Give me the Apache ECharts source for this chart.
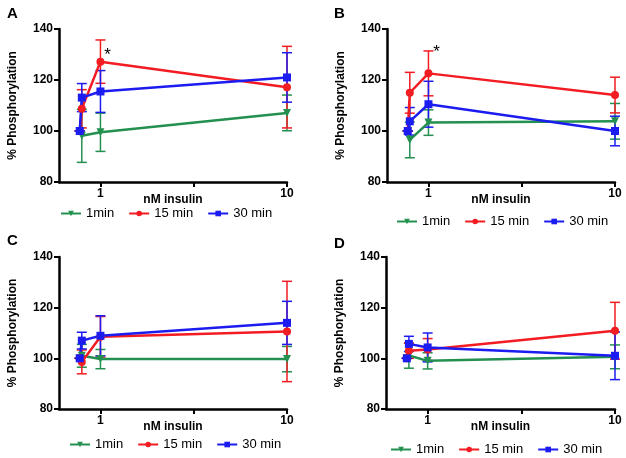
<!DOCTYPE html>
<html>
<head>
<meta charset="utf-8">
<title>Phosphorylation vs insulin</title>
<script src="https://cdn.jsdelivr.net/npm/echarts@6/dist/echarts.min.js"></script>
<style>
  html, body { margin: 0; padding: 0; background: #fff; }
  #main { width: 626px; height: 458px; }
</style>
</head>
<body>
<div id="main"></div>
<script>
// insulin doses (nM), 0 = control
const doses = [0, 0.1, 1, 10]
const seriesNames = ['1min', '15 min', '30 min']

// panel A
const a1min = [100, 98.1, 99.5, 107.1]
const a1minErr = [0, 10.4, 7.5, 7]
const a15min = [100, 108.7, 127.2, 117.2]
const a15minErr = [0, 7.5, 8.5, 16]
const a30min = [100, 113.1, 115.5, 121.0]
const a30minErr = [0, 5.5, 8.2, 9.7]

// panel B
const b1min = [100, 96.5, 103.3, 103.8]
const b1minErr = [0, 7, 5, 7]
const b15min = [100, 115.0, 122.6, 114.1]
const b15minErr = [0, 8, 8.8, 7]
const b30min = [100, 103.8, 110.5, 100.0]
const b30minErr = [0, 5.4, 9, 5.8]

// panel C
const c1min = [100, 101.0, 99.7, 99.7]
const c1minErr = [0, 4.5, 3.8, 5]
const c15min = [100, 98.6, 108.5, 110.6]
const c15minErr = [0, 4.7, 8, 19.8]
const c30min = [100, 107.0, 108.9, 114.0]
const c30minErr = [0, 3.3, 7.9, 8.5]

// panel D
const d1min = [100, 101.1, 99.0, 100.6]
const d1minErr = [0, 5, 3.2, 4.7]
const d15min = [100, 103.0, 103.5, 110.9]
const d15minErr = [0, 3, 4.3, 11.2]
const d30min = [100, 105.7, 104.3, 101.0]
const d30minErr = [0, 3, 5.7, 9.4]

// significance marks: [x, y]
const starA = [1.34, 129.5]
const starB = [1.39, 131]

const colors = ['#23904f', '#f21c22', '#1c1cf0']
const symbols = ['triangle', 'circle', 'rect']
const symbolRotate = [180, 0, 0]

const panels = [
  { letter: 'A', grid: { left: 59, top: 29, width: 228, height: 153 }, legendTop: 202, legendLeft: 55,
    letterPos: [7, 6], values: [a1min, a15min, a30min], errs: [a1minErr, a15minErr, a30minErr], star: starA },
  { letter: 'B', grid: { left: 387, top: 29, width: 228, height: 153 }, legendTop: 210, legendLeft: 391,
    letterPos: [334, 6], values: [b1min, b15min, b30min], errs: [b1minErr, b15minErr, b30minErr], star: starB },
  { letter: 'C', grid: { left: 59, top: 257, width: 228, height: 152 }, legendTop: 433, legendLeft: 64,
    letterPos: [7, 233], values: [c1min, c15min, c30min], errs: [c1minErr, c15minErr, c30minErr] },
  { letter: 'D', grid: { left: 386, top: 257, width: 229, height: 152 }, legendTop: 438, legendLeft: 385,
    letterPos: [334, 236], values: [d1min, d15min, d30min], errs: [d1minErr, d15minErr, d30minErr] }
]

const font = 'Liberation Sans, Arial, sans-serif'

// error bar with caps
const errorBar = (color) => (params, api) => {
  const x = api.value(0)
  const top = api.coord([x, api.value(2)])
  const bot = api.coord([x, api.value(1)])
  const w = 5
  const style = { stroke: color, lineWidth: 1.5 }
  return {
    type: 'group',
    children: [
      { type: 'line', shape: { x1: top[0], y1: top[1], x2: bot[0], y2: bot[1] }, style },
      { type: 'line', shape: { x1: top[0] - w, y1: top[1], x2: top[0] + w, y2: top[1] }, style },
      { type: 'line', shape: { x1: bot[0] - w, y1: bot[1], x2: bot[0] + w, y2: bot[1] }, style }
    ]
  }
}

const grids = [], xAxes = [], yAxes = [], legends = [], series = [], graphics = []

panels.forEach((p, i) => {
  grids.push(p.grid)
  xAxes.push({
    gridIndex: i,
    type: 'value',
    min: -1,
    max: 10,
    name: 'nM insulin',
    nameLocation: 'middle',
    nameGap: 12,
    nameMoveOverlap: false,
    nameTextStyle: { fontFamily: font, fontWeight: 'bold', fontSize: 12, color: '#000' },
    axisLine: { show: true, onZero: false, lineStyle: { color: '#000', width: 2.5 } },
    axisTick: { show: true, length: 5, lineStyle: { color: '#000', width: 2 }, customValues: [1, 5.5, 10] },
    axisLabel: { customValues: [1, 10], fontFamily: font, fontWeight: 'bold', fontSize: 12, color: '#000', margin: 6 },
    splitLine: { show: false }
  })
  yAxes.push({
    gridIndex: i,
    type: 'value',
    min: 80,
    max: 140,
    interval: 20,
    name: '% Phosphorylation',
    nameLocation: 'middle',
    nameGap: 40,
    nameMoveOverlap: false,
    nameTextStyle: { fontFamily: font, fontWeight: 'bold', fontSize: 12, color: '#000' },
    axisLine: { show: true, onZero: false, lineStyle: { color: '#000', width: 2.5 } },
    axisTick: { show: true, length: 5, lineStyle: { color: '#000', width: 2 } },
    axisLabel: { fontFamily: font, fontWeight: 'bold', fontSize: 12, color: '#000', margin: 6 },
    splitLine: { show: false }
  })
  legends.push({
    data: seriesNames,
    top: p.legendTop,
    left: p.legendLeft,
    itemWidth: 20,
    itemHeight: 7,
    itemGap: 14,
    textStyle: { fontFamily: font, fontSize: 13, color: '#000' }
  })
  graphics.push({
    type: 'text',
    left: p.letterPos[0],
    top: p.letterPos[1],
    style: { text: p.letter, font: 'bold 15px ' + font, fill: '#000' }
  })
  seriesNames.forEach((name, k) => {
    const vals = p.values[k]
    const errs = p.errs[k]
    series.push({
      type: 'custom',
      xAxisIndex: i,
      yAxisIndex: i,
      renderItem: errorBar(colors[k]),
      encode: { x: 0, y: [1, 2] },
      data: doses.map((d, j) => [d, vals[j] - errs[j], vals[j] + errs[j]]),
      silent: true,
      z: 2
    })
    const s = {
      name: name,
      type: 'line',
      xAxisIndex: i,
      yAxisIndex: i,
      data: doses.map((d, j) => [d, vals[j]]),
      color: colors[k],
      symbol: symbols[k],
      symbolRotate: symbolRotate[k],
      symbolSize: 8,
      showAllSymbol: true,
      lineStyle: { width: 2.5, color: colors[k] },
      itemStyle: { color: colors[k] },
      z: 3
    }
    if (k === 1 && p.star) {
      s.markPoint = {
        symbol: 'circle',
        symbolSize: 1,
        itemStyle: { color: 'transparent' },
        label: { show: true, formatter: '*', color: '#000', fontSize: 17, fontFamily: font },
        data: [{ coord: p.star }]
      }
    }
    series.push(s)
  })
})

const myChart = echarts.init(document.getElementById('main'))
myChart.setOption({
  animation: false,
  grid: grids,
  xAxis: xAxes,
  yAxis: yAxes,
  legend: legends,
  graphic: graphics,
  series: series
})
</script>
</body>
</html>
